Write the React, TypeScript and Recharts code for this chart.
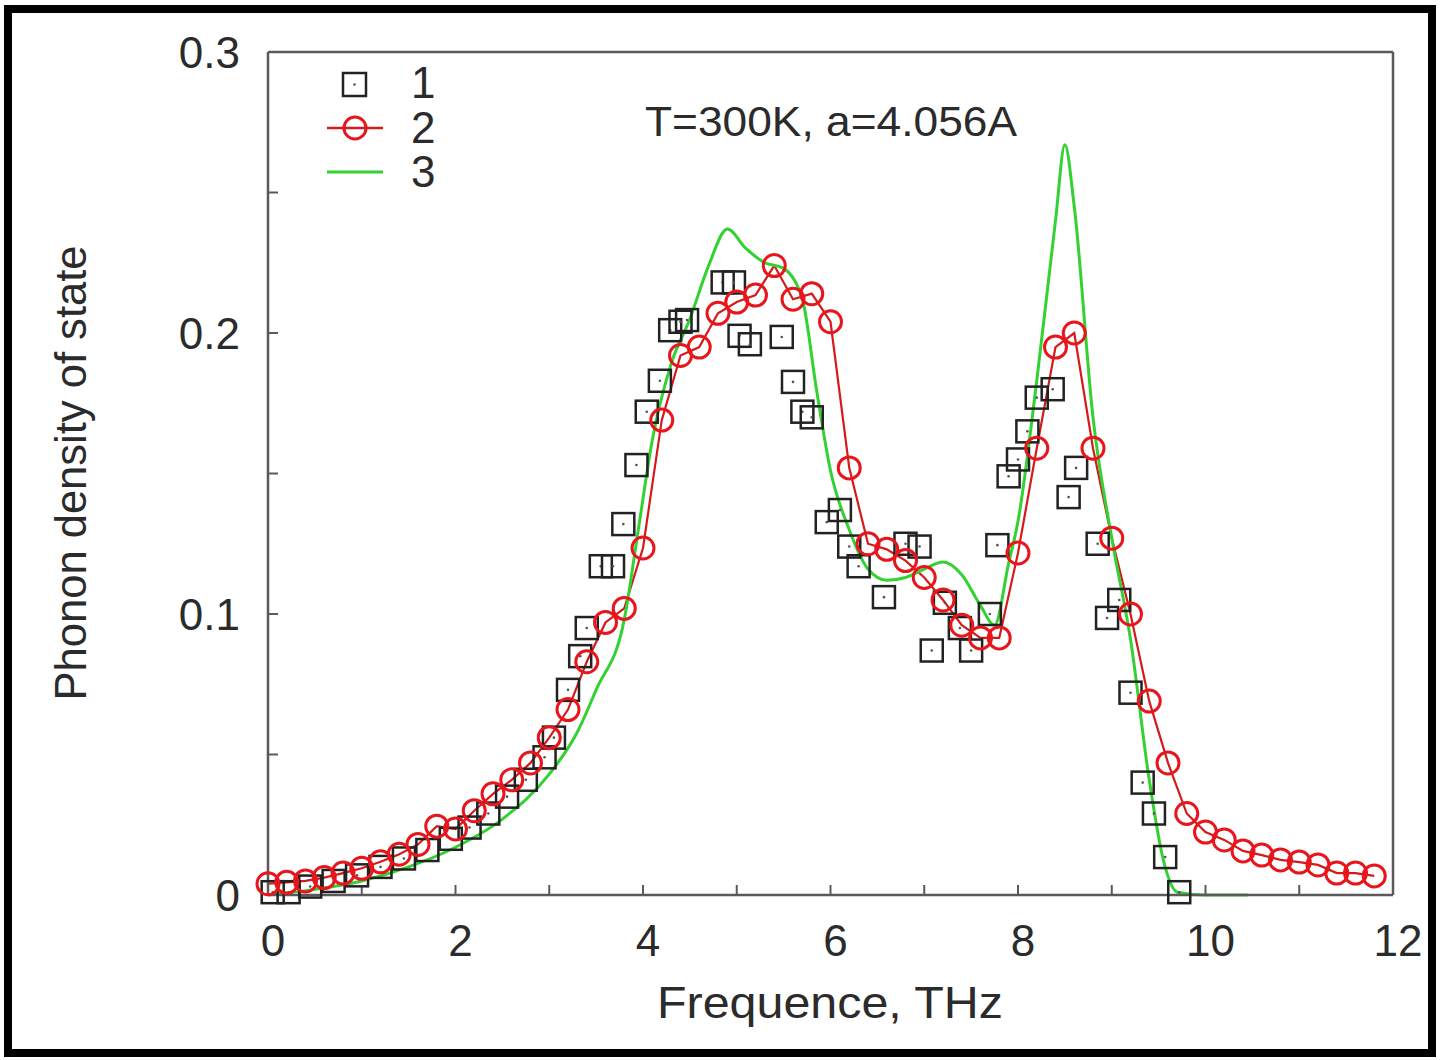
import React from 'react';
import { ComposedChart, Line, Scatter, XAxis, YAxis } from 'recharts';

// series 2 (red circles, joined)
const redFreq = [
  0, 0.2, 0.4, 0.6, 0.8, 1.0, 1.2, 1.4, 1.6, 1.8, 2.0, 2.2, 2.4, 2.6, 2.8, 3.0, 3.2, 3.4, 3.6, 3.8,
  4.0, 4.2, 4.4, 4.6, 4.8, 5.0, 5.2, 5.4, 5.6, 5.8, 6.0, 6.2, 6.4, 6.6, 6.8, 7.0, 7.2, 7.4, 7.6, 7.8,
  8.0, 8.2, 8.4, 8.6, 8.8, 9.0, 9.2, 9.4, 9.6, 9.8, 10.0, 10.2, 10.4, 10.6, 10.8, 11.0, 11.2, 11.4, 11.6, 11.8,
];
const redDos = [
  0.004, 0.0045, 0.005, 0.0062, 0.0078, 0.0095, 0.0118, 0.0145, 0.018, 0.0245, 0.0235, 0.03, 0.036, 0.041, 0.047, 0.056, 0.066, 0.083, 0.097, 0.102,
  0.1235, 0.169, 0.192, 0.195, 0.207, 0.211, 0.2135, 0.224, 0.212, 0.214, 0.204, 0.152, 0.125, 0.123, 0.119, 0.113, 0.105, 0.096, 0.0915, 0.0915,
  0.1217, 0.159, 0.195, 0.2, 0.159, 0.127, 0.1, 0.069, 0.047, 0.029, 0.0224, 0.0196, 0.0157, 0.0142, 0.0125, 0.0117, 0.0107, 0.0078, 0.0078, 0.0068,
];

// series 1 (black squares)
const blackFreq = [
  0.05, 0.22, 0.45, 0.7, 0.95, 1.2, 1.45, 1.7, 1.95, 2.15, 2.35, 2.55, 2.75, 2.95, 3.05, 3.2, 3.33, 3.4, 3.55, 3.68,
  3.79, 3.93, 4.04, 4.18, 4.29, 4.4, 4.47, 4.85, 4.97, 5.03, 5.14, 5.48, 5.6, 5.7, 5.8, 5.96, 6.1, 6.2, 6.3, 6.57,
  6.8, 6.95, 7.08, 7.22, 7.38, 7.5, 7.7, 7.78, 7.9, 8.0, 8.1, 8.2, 8.37, 8.54, 8.62, 8.85, 8.95, 9.08, 9.2, 9.33,
  9.45, 9.57, 9.72,
];
const blackDos = [
  0.001, 0.001, 0.003, 0.005, 0.007, 0.01, 0.013, 0.016, 0.02, 0.024, 0.029, 0.035, 0.041, 0.049, 0.056, 0.073, 0.085, 0.095, 0.117, 0.117,
  0.132, 0.153, 0.172, 0.183, 0.201, 0.204, 0.2046, 0.218, 0.218, 0.199, 0.196, 0.1986, 0.1826, 0.172, 0.17, 0.1327, 0.137, 0.124, 0.117, 0.106,
  0.125, 0.124, 0.087, 0.104, 0.095, 0.087, 0.1, 0.1245, 0.149, 0.155, 0.165, 0.177, 0.18, 0.1416, 0.152, 0.125, 0.0986, 0.105, 0.072, 0.04,
  0.029, 0.0135, 0.001,
];

// series 3 (green curve)
const greenFreq = [
  0, 0.5, 1.0, 1.5, 2.0, 2.5, 3.0, 3.3, 3.5, 3.8, 3.95, 4.1, 4.3, 4.5, 4.7, 4.9, 5.1, 5.3, 5.5, 5.7,
  5.85, 6.0, 6.2, 6.4, 6.6, 6.8, 7.0, 7.2, 7.4, 7.6, 7.75, 7.9, 8.0, 8.2, 8.4, 8.5, 8.6, 8.8, 9.0, 9.2,
  9.4, 9.55, 9.7, 10.0, 10.45,
];
const greenDos = [
  0, 0.002, 0.005, 0.01, 0.017, 0.027, 0.043, 0.058, 0.073, 0.098, 0.13, 0.162, 0.189, 0.205, 0.224, 0.237, 0.23, 0.225, 0.223, 0.212,
  0.18, 0.151, 0.13, 0.116, 0.112, 0.113, 0.116, 0.1185, 0.114, 0.103, 0.096, 0.118, 0.133, 0.183, 0.24, 0.267, 0.245, 0.17, 0.127, 0.091,
  0.041, 0.0125, 0.001, 0, 0,
];

const xTicks = [0, 1, 2, 3, 4, 5, 6, 7, 8, 9, 10, 11, 12];
const yTicks = [0, 0.05, 0.1, 0.15, 0.2, 0.25, 0.3];
const legendLabels = ['1', '2', '3'];

const FONT = '"Liberation Sans", Arial, Helvetica, sans-serif';
const TEXT = '#2b2b2b';
const FRAME = '#5a5a5a';
const RED = '#e8161c';
const GREEN = '#33d233';

const redData = redFreq.map((x, i) => ({ x, y: redDos[i] }));
const blackData = blackFreq.map((x, i) => ({ x, y: blackDos[i] }));
const greenData = greenFreq.map((x, i) => ({ x, y: greenDos[i] }));

function Square(props: any) {
  const { cx, cy } = props;
  if (cx == null || cy == null) return null;
  return (
    <g>
      <rect x={cx - 11} y={cy - 11} width={22} height={22} fill="none" stroke="#222" strokeWidth={2.5} />
      <circle cx={cx} cy={cy} r={1.3} fill="#555" />
    </g>
  );
}

function RedDot(props: any) {
  const { cx, cy, index } = props;
  if (cx == null || cy == null) return null;
  return <circle key={`r${index}`} cx={cx} cy={cy} r={11} fill="none" stroke={RED} strokeWidth={3} />;
}

const xLabel = (v: number) => (v % 2 === 0 ? String(v) : '');
const yLabel = (v: number) => {
  const k = Math.round(v * 100);
  if (k % 10 !== 0) return '';
  return k === 0 ? '0' : (k / 100).toFixed(1);
};

export default function App() {
  return (
    <div style={{ position: 'absolute', left: 0, top: 0, width: 1440, height: 1060, background: '#fff', fontFamily: FONT }}>
      <ComposedChart
        width={1440}
        height={1060}
        margin={{ top: 42, right: 37, bottom: 105, left: 158 }}
        style={{ position: 'absolute', left: 0, top: 0 }}
      >
        <XAxis
          dataKey="x"
          type="number"
          domain={[0, 12]}
          ticks={xTicks}
          tickFormatter={xLabel}
          height={60}
          tickSize={-10}
          tickMargin={40}
          axisLine={{ stroke: FRAME, strokeWidth: 2.5 }}
          tickLine={{ stroke: FRAME, strokeWidth: 2 }}
          tick={{ fill: TEXT, fontSize: 44, fontFamily: FONT, dx: 5 }}
        />
        <XAxis
          xAxisId="top"
          orientation="top"
          dataKey="x"
          type="number"
          domain={[0, 12]}
          ticks={xTicks}
          tickFormatter={() => ''}
          height={10}
          tickSize={-10}
          axisLine={{ stroke: FRAME, strokeWidth: 2.5 }}
          tickLine={{ stroke: FRAME, strokeWidth: 2 }}
        />
        <YAxis
          type="number"
          domain={[0, 0.3]}
          ticks={yTicks}
          tickFormatter={yLabel}
          width={110}
          tickSize={-10}
          tickMargin={38}
          axisLine={{ stroke: FRAME, strokeWidth: 2.5 }}
          tickLine={{ stroke: FRAME, strokeWidth: 2 }}
          tick={{ fill: TEXT, fontSize: 44, fontFamily: FONT }}
        />
        <YAxis
          yAxisId="right"
          orientation="right"
          type="number"
          domain={[0, 0.3]}
          ticks={yTicks}
          tickFormatter={() => ''}
          width={10}
          tickSize={-10}
          axisLine={{ stroke: FRAME, strokeWidth: 2.5 }}
          tickLine={{ stroke: FRAME, strokeWidth: 2 }}
        />
        <Scatter data={blackData} dataKey="y" shape={Square} isAnimationActive={false} />
        <Line
          data={redData}
          dataKey="y"
          type="linear"
          stroke="#d41a1a"
          strokeWidth={2.2}
          dot={RedDot}
          activeDot={false}
          isAnimationActive={false}
        />
        <Line
          data={greenData}
          dataKey="y"
          type="monotone"
          stroke={GREEN}
          strokeWidth={3}
          dot={false}
          activeDot={false}
          isAnimationActive={false}
        />
      </ComposedChart>

      <svg width={1440} height={1060} style={{ position: 'absolute', left: 0, top: 0, pointerEvents: 'none' }}>
        {/* legend */}
        <rect x={343} y={73} width={23} height={23} fill="none" stroke="#222" strokeWidth={2.5} />
        <circle cx={354.5} cy={84.5} r={1.3} fill="#555" />
        <line x1={327} x2={383} y1={128} y2={128} stroke="#d41a1a" strokeWidth={2.5} />
        <circle cx={355} cy={128} r={11} fill="none" stroke={RED} strokeWidth={3} />
        <line x1={327} x2={383} y1={172} y2={172} stroke={GREEN} strokeWidth={3} />
        {legendLabels.map((t, i) => (
          <text key={t} x={411} y={98 + i * 44.5} fontSize={44} fill={TEXT} fontFamily={FONT}>
            {t}
          </text>
        ))}
        <text x={645} y={136} fontSize={42} fill={TEXT} fontFamily={FONT} textLength={372} lengthAdjust="spacingAndGlyphs">
          T=300K, a=4.056A
        </text>
        <text x={657} y={1018} fontSize={44} fill={TEXT} fontFamily={FONT} textLength={346} lengthAdjust="spacingAndGlyphs">
          Frequence, THz
        </text>
        <text
          x={0}
          y={0}
          transform="translate(86 473) rotate(-90)"
          textAnchor="middle"
          fontSize={44}
          fill={TEXT}
          fontFamily={FONT}
          textLength={455}
          lengthAdjust="spacingAndGlyphs"
        >
          Phonon density of state
        </text>
      </svg>

      <div
        style={{
          position: 'absolute',
          left: 4,
          top: 5,
          width: 1432,
          height: 1052,
          border: '8px solid #000',
          boxSizing: 'border-box',
        }}
      />
    </div>
  );
}
